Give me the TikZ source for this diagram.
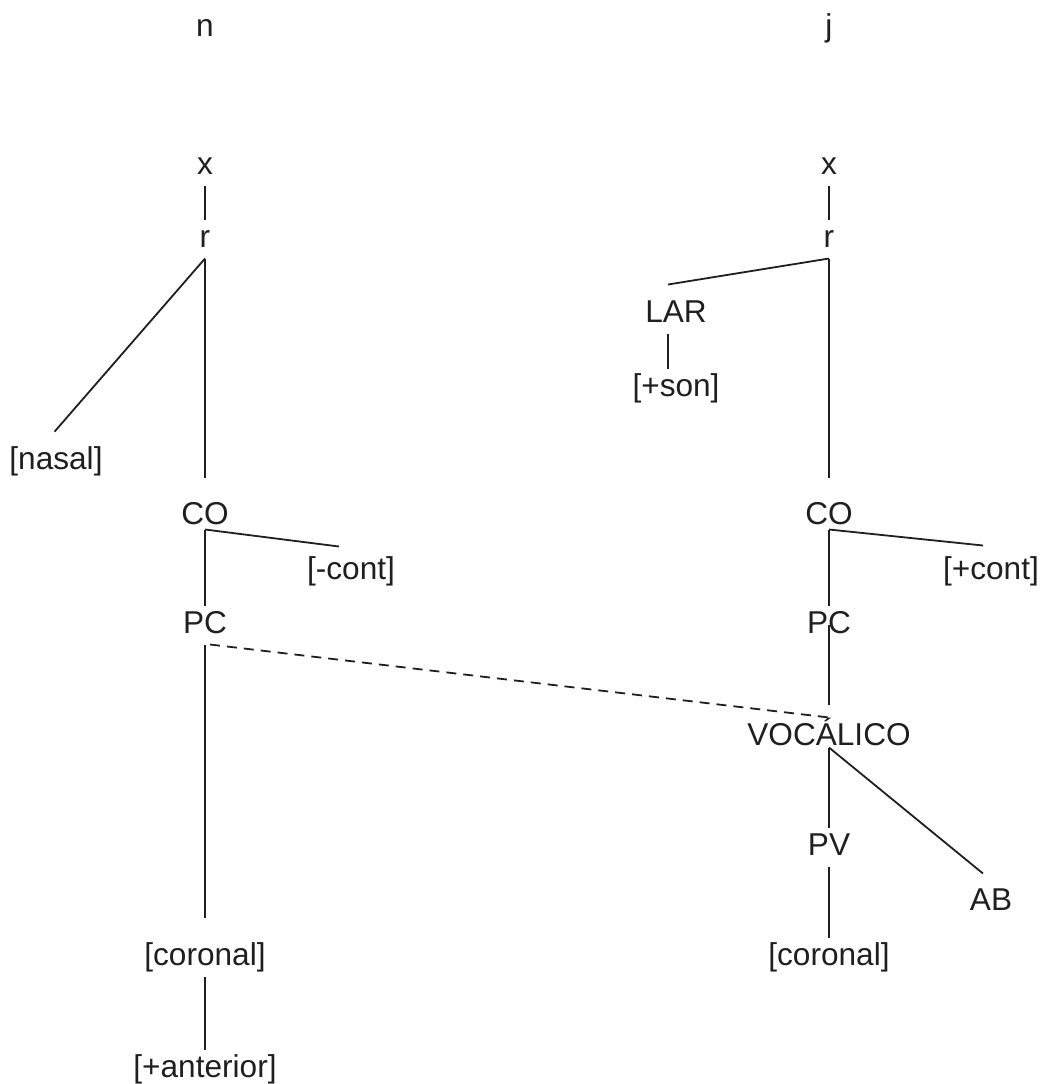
\documentclass[tikz,border=0pt]{standalone}
\usepackage{fontspec}
\setmainfont{Liberation Sans}
\begin{document}
\begin{tikzpicture}[
  x=0.5pt, y=-0.5pt,
  featnode/.style={inner xsep=0pt,inner ysep=2.4pt,text height=11.3pt,text depth=3pt,
                   text=black!88,font=\fontsize{15.8}{18}\selectfont},
  tierline/.style={line width=0.9pt,draw=black!88},
  linkline/.style={tierline,dash pattern=on 5pt off 3.5pt},
]
\useasboundingbox (0,0) rectangle (1043,1084);

% Segment /n/
\node[featnode] (nl) at (205,28) {n};
\node[featnode] (xl) at (205,166) {x};
\node[featnode] (rl) at (205,239) {r};
\node[featnode] (nasal) at (56,461) {[nasal]};
\node[featnode] (COl) at (205,516) {CO};
\node[featnode] (contl) at (351,571) {[-cont]};
\node[featnode] (PCl) at (205,625) {PC};
\node[featnode] (corl) at (205,957) {[coronal]};
\node[featnode] (ant) at (205,1069) {[+anterior]};

% Segment /j/
\node[featnode] (jr) at (829,28) {j};
\node[featnode] (xr) at (829,166) {x};
\node[featnode] (rr) at (829,239) {r};
\node[featnode] (LAR) at (676,314) {LAR};
\node[featnode] (son) at (676,388) {[+son]};
\node[featnode] (COr) at (829,516) {CO};
\node[featnode] (contr) at (991,571) {[+cont]};
\node[featnode] (PCr) at (829,625) {PC};
\node[featnode] (voc) at (829,737) {VOCÁLICO};
\node[featnode] (PV) at (829,847) {PV};
\node[featnode] (AB) at (991,902) {AB};
\node[featnode] (corr) at (829,957) {[coronal]};

% Left tree
\draw[tierline] (xl) -- (rl);
\draw[tierline,shorten >=6.5pt] (rl.south) -- ([xshift=-5pt]nasal.north);
\draw[tierline,shorten >=9.5pt] (rl) -- (COl);
\draw[tierline] ([yshift=3pt]COl.south) -- ([xshift=-6pt,yshift=2.5pt]contl.north);
\draw[tierline] ([yshift=3pt]COl.south) -- (PCl.north);
\draw[tierline,shorten >=10pt] (PCl) -- (corl);
\draw[tierline] (corl) -- (ant);

% Right tree
\draw[tierline] (xr) -- (rr);
\draw[tierline] (rr.south) -- ([xshift=-4pt,yshift=5pt]LAR.north);
\draw[tierline] ([xshift=-4pt]LAR.south) -- ([xshift=-4pt]son.north);
\draw[tierline,shorten >=9.5pt] (rr) -- (COr);
\draw[tierline] ([yshift=3pt]COr.south) -- ([xshift=-4pt,yshift=3pt]contr.north);
\draw[tierline] ([yshift=3pt]COr.south) -- (PCr.north);
\draw[tierline,shorten >=6.5pt] (PCr.center) -- (voc.north);
\draw[tierline] ([yshift=4.5pt]voc.south) -- (PV.north);
\draw[tierline] ([yshift=4.5pt]voc.south) -- ([xshift=-4pt,yshift=4.5pt]AB.north);
\draw[tierline] (PV) -- (corr);

% Spreading link
\draw[linkline] ([xshift=2.5pt]PCl.south) -- (voc.north);

\end{tikzpicture}
\end{document}
